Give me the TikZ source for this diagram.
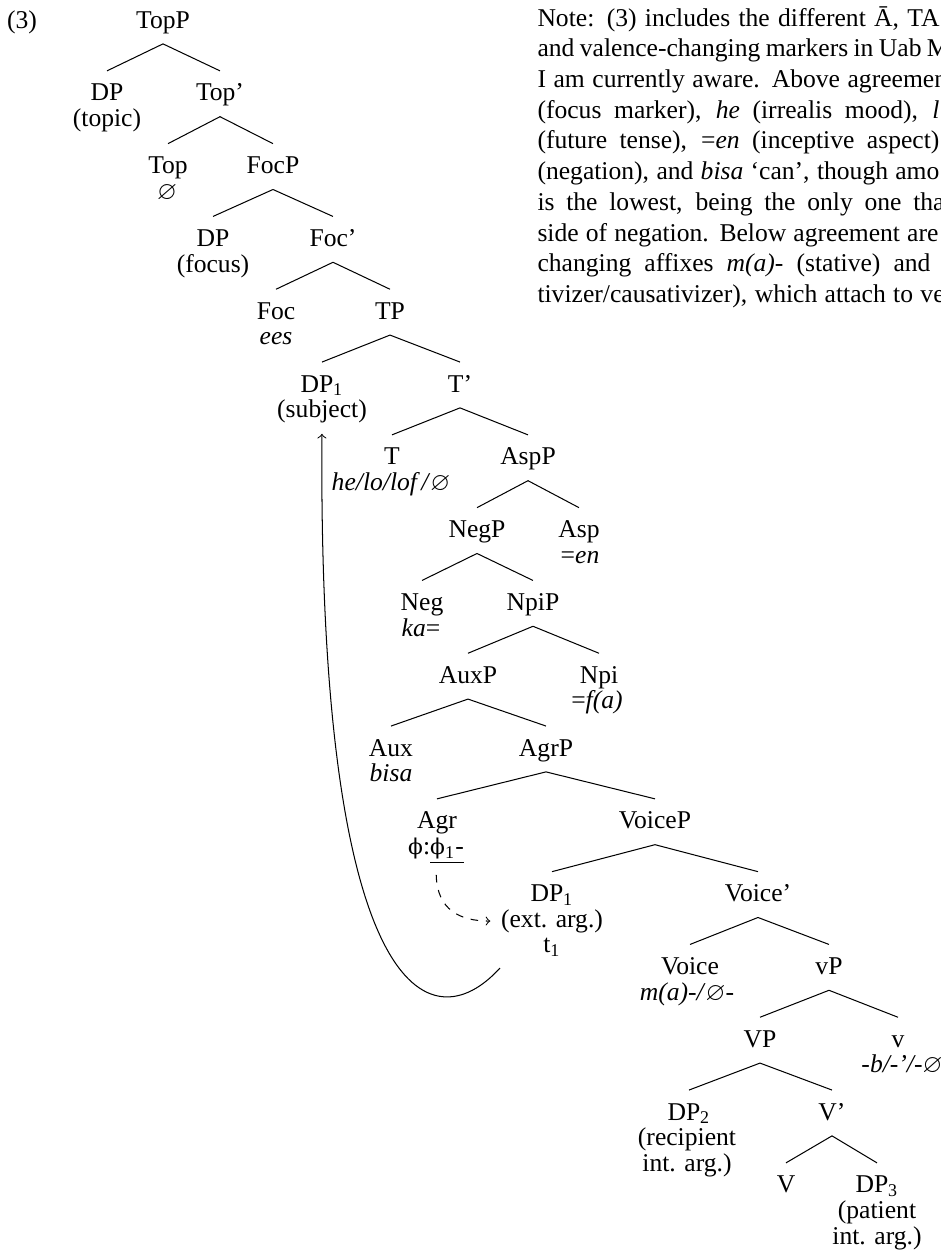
\documentclass[tikz,border=0pt]{standalone}
\usepackage{amssymb}
\usepackage{fontspec}
\setmainfont{Liberation Serif}
\newfontfamily\symfont{DejaVu Serif}[Scale=0.85]
\newcommand{\nullmk}{$\varnothing$}
\newcommand{\phimk}{{\symfont ϕ}}
\tikzset{
    cat/.style={anchor=base, text height=7.5pt, text depth=2pt, inner xsep=1pt, inner ysep=4pt},
    lab/.style={anchor=base, inner sep=0pt},
    txt/.style={anchor=base west, inner sep=0pt}
}

\begin{document}
\begin{tikzpicture}[x=0.390625pt, y=-0.390625pt, thin]
    \useasboundingbox (0,0) rectangle (941,1250);
    \node[lab] (exnum) at (22,28) {(3)};
    \node[cat] (topp) at (163,28) {TopP};
    \node[cat] (dptop) at (107,100.8) {DP};
    \node[lab] (dptopf) at (107,126.4) {(topic)};
    \node[cat] (topbar) at (220,100.8) {Top’};
    \node[cat] (top) at (168,173.6) {Top};
    \node[lab] (topf) at (167,199.2) {\nullmk};
    \node[cat] (focp) at (273,173.6) {FocP};
    \node[cat] (dpfoc) at (213,246.4) {DP};
    \node[lab] (dpfocf) at (213,272) {(focus)};
    \node[cat] (focbar) at (333,246.4) {Foc’};
    \node[cat] (foc) at (276,319.2) {Foc};
    \node[lab] (focf) at (276,344.8) {\textit{ees}};
    \node[cat] (tp) at (390,319.2) {TP};
    \node[cat] (dpsubj) at (322,392) {DP\textsubscript{1}};
    \node[lab] (dpsubjf) at (322,417.6) {(subject)};
    \node[cat] (tbar) at (460,392) {T’};
    \node[cat] (t) at (392,464.8) {T};
    \node[lab] (tf) at (391,490.4) {\textit{he/lo/lof\,/}\nullmk};
    \node[cat] (aspp) at (528,464.8) {AspP};
    \node[cat] (negp) at (477,537.6) {NegP};
    \node[cat] (asp) at (579,537.6) {Asp};
    \node[lab] (aspf) at (580,563.2) {=\textit{en}};
    \node[cat] (neg) at (422,610.4) {Neg};
    \node[lab] (negf) at (421,636) {\textit{ka}=};
    \node[cat] (npip) at (533,610.4) {NpiP};
    \node[cat] (auxp) at (468,683.2) {AuxP};
    \node[cat] (npi) at (599,683.2) {Npi};
    \node[lab] (npif) at (597,708.8) {=\textit{f(a)}};
    \node[cat] (aux) at (391,756) {Aux};
    \node[lab] (auxf) at (391,781.6) {\textit{bisa}};
    \node[cat] (agrp) at (546,756) {AgrP};
    \node[cat] (agr) at (437,828.8) {Agr};
    \node[lab] (agrf) at (436,854.4) {\phimk:\underline{\phimk\textsubscript{1}-}};
    \node[cat] (voicep) at (655,828.8) {VoiceP};
    \node[cat] (dpext) at (552,901.6) {DP\textsubscript{1}};
    \node[lab] (dpextf) at (552,927.2) {(ext. arg.)};
    \node[lab] (dpextt) at (552,952.8) {t\textsubscript{1}};
    \node[cat] (voicebar) at (758,901.6) {Voice’};
    \node[cat] (voice) at (690,974.4) {Voice};
    \node[lab] (voicef) at (687,1000) {\textit{m(a)-/}\nullmk-};
    \node[cat] (vp) at (829,974.4) {vP};
    \node[cat] (bigvp) at (760,1047.2) {VP};
    \node[cat] (v) at (898,1047.2) {v};
    \node[lab] (vf) at (902,1072.8) {\textit{-b/-’/-}\nullmk};
    \node[cat] (dprec) at (689,1120) {DP\textsubscript{2}};
    \node[lab] (dprecf) at (687,1145.6) {(recipient};
    \node[lab] (dprecg) at (687,1171.2) {int. arg.)};
    \node[cat] (vbar) at (832,1120) {V’};
    \node[cat] (bigv) at (786,1192.8) {V};
    \node[cat] (dppat) at (877,1192.8) {DP\textsubscript{3}};
    \node[lab] (dppatf) at (877,1218.4) {(patient};
    \node[lab] (dppatg) at (877,1244) {int. arg.)};

    \draw (topp.south) -- (dptop.north) (topp.south) -- (topbar.north);
    \draw (topbar.south) -- (top.north) (topbar.south) -- (focp.north);
    \draw (focp.south) -- (dpfoc.north) (focp.south) -- (focbar.north);
    \draw (focbar.south) -- (foc.north) (focbar.south) -- (tp.north);
    \draw (tp.south) -- (dpsubj.north) (tp.south) -- (tbar.north);
    \draw (tbar.south) -- (t.north) (tbar.south) -- (aspp.north);
    \draw (aspp.south) -- (negp.north) (aspp.south) -- (asp.north);
    \draw (negp.south) -- (neg.north) (negp.south) -- (npip.north);
    \draw (npip.south) -- (auxp.north) (npip.south) -- (npi.north);
    \draw (auxp.south) -- (aux.north) (auxp.south) -- (agrp.north);
    \draw (agrp.south) -- (agr.north) (agrp.south) -- (voicep.north);
    \draw (voicep.south) -- (dpext.north) (voicep.south) -- (voicebar.north);
    \draw (voicebar.south) -- (voice.north) (voicebar.south) -- (vp.north);
    \draw (vp.south) -- (bigvp.north) (vp.south) -- (v.north);
    \draw (bigvp.south) -- (dprec.north) (bigvp.south) -- (vbar.north);
    \draw (vbar.south) -- (bigv.north) (vbar.south) -- (dppat.north);

    \draw[->, dashed, shorten <=4pt, shorten >=4pt] (agrf.south) .. controls (437,910) and (460,921) .. (dpextf.west);
    \coordinate (trace) at (500,968);
    \draw[->, shorten >=4pt] (trace) .. controls (430,1045) and (318,1000) .. (dpsubjf.south);

    \begin{scope}
        \clip (0,0) rectangle (941,1250);
        \node[txt] (note1) at (537,26) {\makebox[157pt][s]{Note: (3) includes the different Ā, TA}};
        \node[txt] (note2) at (537,56.7) {\makebox[161pt][s]{and valence-changing markers in Uab M}};
        \node[txt] (note3) at (537,87.4) {\makebox[160pt][s]{I am currently aware. Above agreemen}};
        \node[txt] (note4) at (537,118.2) {\makebox[157pt][s]{(focus marker), \textit{he} (irrealis mood), \textit{l}}};
        \node[txt] (note5) at (537,148.9) {\makebox[157pt][s]{(future tense), =\textit{en} (inceptive aspect)}};
        \node[txt] (note6) at (537,179.6) {\makebox[157pt][s]{(negation), and \textit{bisa} ‘can’, though amo}};
        \node[txt] (note7) at (537,210.3) {\makebox[159pt][s]{is the lowest, being the only one tha}};
        \node[txt] (note8) at (537,241) {\makebox[156.6pt][s]{side of negation. Below agreement are}};
        \node[txt] (note9) at (537,271.8) {\makebox[153.5pt][s]{changing affixes \textit{m(a)-} (stative) and}};
        \node[txt] (note10) at (537,302.5) {\makebox[159pt][s]{tivizer/causativizer), which attach to ve}};
    \end{scope}
\end{tikzpicture}
\end{document}
